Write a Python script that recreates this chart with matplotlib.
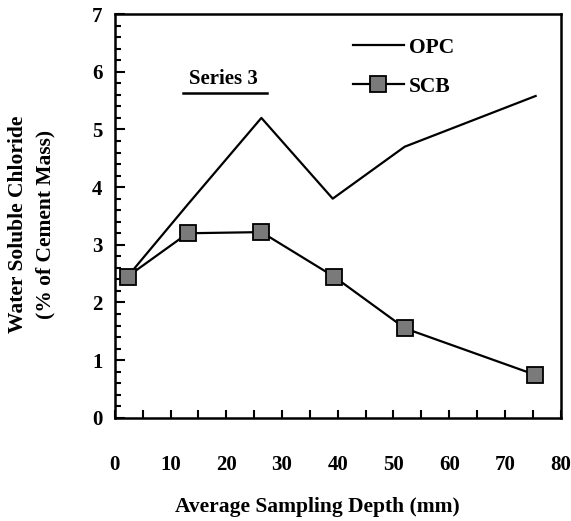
import matplotlib.pyplot as plt
from matplotlib.ticker import MultipleLocator
from matplotlib.lines import Line2D

plt.rcParams['font.family'] = ['Liberation Serif', 'DejaVu Serif']
plt.rcParams['font.weight'] = 'bold'

# data
depth_opc = [2.3, 13.1, 26.3, 39.1, 52.0, 75.5]
opc = [2.45, 3.7, 5.2, 3.8, 4.7, 5.58]
depth_scb = [2.3, 13.1, 26.3, 39.3, 52.1, 75.3]
scb = [2.45, 3.2, 3.22, 2.45, 1.55, 0.75]

fig = plt.figure(figsize=(5.71, 5.21), dpi=100)
ax = fig.add_axes([0.201, 0.198, 0.781, 0.775])

ax.plot(depth_opc, opc, color='black', linewidth=1.6, label='OPC')
ax.plot(depth_scb, scb, color='black', linewidth=1.6, marker='s', markersize=11,
        markerfacecolor='#7a7a7a', markeredgecolor='black', markeredgewidth=1.3,
        label='SCB')

ax.set_xlim(0, 80)
ax.set_ylim(0, 7)
ax.xaxis.set_major_locator(MultipleLocator(10))
ax.xaxis.set_minor_locator(MultipleLocator(5))
ax.yaxis.set_major_locator(MultipleLocator(1))
ax.yaxis.set_minor_locator(MultipleLocator(0.2))

ax.tick_params(axis='both', which='both', direction='in', width=1.5)
ax.tick_params(axis='x', which='major', length=6, pad=27, labelsize=15)
ax.tick_params(axis='x', which='minor', length=6)
ax.tick_params(axis='y', which='major', length=7, pad=9, labelsize=15)
ax.tick_params(axis='y', which='minor', length=4)
for s in ax.spines.values():
    s.set_linewidth(1.8)

fig.text(0.555, 0.008, 'Average Sampling Depth (mm)', ha='center', va='bottom',
         fontsize=15.5, fontweight='bold')
fig.text(0.032, 0.57, 'Water Soluble Chloride', rotation=90, ha='center',
         va='center', fontsize=15.5, fontweight='bold')
fig.text(0.079, 0.57, '(% of Cement Mass)', rotation=90, ha='center',
         va='center', fontsize=15.5, fontweight='bold')

ax.text(0.243, 0.84, 'Series 3', transform=ax.transAxes, ha='center',
        va='center', fontsize=15, fontweight='bold')
ax.add_line(Line2D([0.152, 0.342], [0.805, 0.805], transform=ax.transAxes,
                   color='black', linewidth=1.8))

ax.legend(loc='upper left', bbox_to_anchor=(0.49, 0.99), frameon=False,
          handlelength=2.4, handletextpad=0.2, labelspacing=0.9,
          prop={'size': 15.5, 'weight': 'bold'})

fig.savefig('out.png', dpi=100)
